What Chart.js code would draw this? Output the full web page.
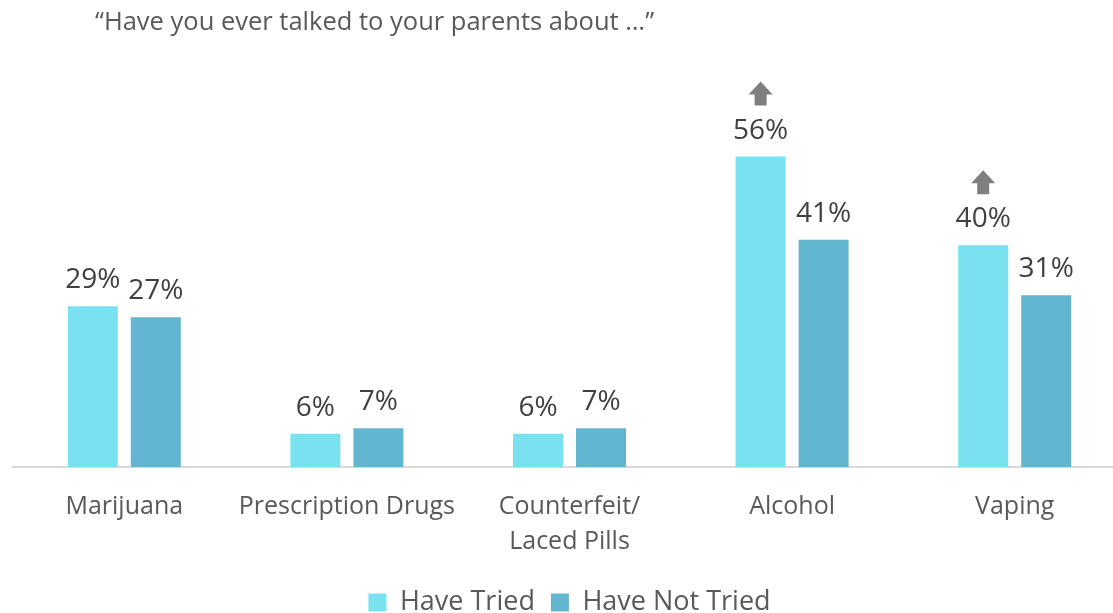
<!DOCTYPE html>
<html>
<head>
<meta charset="utf-8">
<script src="https://cdn.jsdelivr.net/npm/chart.js@4.4.1/dist/chart.umd.min.js"></script>
<style>
  html, body { margin: 0; padding: 0; background: #fff; overflow: hidden; }
  #wrap { position: relative; width: 1130px; height: 626px; }
  #title {
    position: absolute; left: 95px; top: 3px;
    font-family: "Open Sans", sans-serif; font-size: 25.5px; color: #595959;
  }
</style>
</head>
<body>
<div id="wrap">
  <div id="title">“Have you ever talked to your parents about …”</div>
  <canvas id="chart" width="1130" height="626"></canvas>
</div>
<script>
const categories = ['Marijuana', 'Prescription Drugs', ['Counterfeit/', 'Laced Pills'], 'Alcohol', 'Vaping'];
const haveTried = [29, 6, 6, 56, 40];
const haveNotTried = [27, 7, 7, 41, 31];
// up-arrow marks over the "Have Tried" bar
const upArrow = [false, false, false, true, true];

const FONT = '"Open Sans", sans-serif';

const barLabels = {
  id: 'barLabels',
  afterDatasetsDraw(chart) {
    const ctx = chart.ctx;
    ctx.save();
    ctx.font = '28px ' + FONT;
    ctx.fillStyle = '#404040';
    ctx.textAlign = 'center';
    ctx.textBaseline = 'alphabetic';
    chart.data.datasets.forEach((ds, di) => {
      chart.getDatasetMeta(di).data.forEach((bar, i) => {
        ctx.fillText(ds.data[i] + '%', bar.x, bar.y - 18);
        if (di === 0 && upArrow[i]) {
          const bottom = bar.y - 51;
          const top = bottom - 24;
          ctx.fillStyle = '#7f7f7f';
          ctx.beginPath();
          ctx.moveTo(bar.x, top);
          ctx.lineTo(bar.x + 12, top + 13);
          ctx.lineTo(bar.x + 6, top + 13);
          ctx.lineTo(bar.x + 6, bottom);
          ctx.lineTo(bar.x - 6, bottom);
          ctx.lineTo(bar.x - 6, top + 13);
          ctx.lineTo(bar.x - 12, top + 13);
          ctx.closePath();
          ctx.fill();
          ctx.fillStyle = '#404040';
        }
      });
    });
    ctx.restore();
  }
};

new Chart(document.getElementById('chart'), {
  type: 'bar',
  data: {
    labels: categories,
    datasets: [
      { label: 'Have Tried', data: haveTried, backgroundColor: '#79e1ef' },
      { label: 'Have Not Tried', data: haveNotTried, backgroundColor: '#63b6d0' }
    ]
  },
  options: {
    responsive: false,
    animation: false,
    layout: { padding: { left: 13, right: 4, top: 79, bottom: 0 } },
    datasets: { bar: { categoryPercentage: 0.566, barPercentage: 0.794 } },
    scales: {
      x: {
        grid: { display: false },
        border: { display: true, color: '#d9d9d9', width: 2 },
        ticks: {
          color: '#595959',
          font: { family: FONT, size: 25, lineHeight: 1.4 },
          padding: 14,
          maxRotation: 0
        }
      },
      y: { display: false, min: 0, max: 70 }
    },
    plugins: {
      legend: {
        position: 'bottom',
        labels: {
          color: '#595959',
          font: { family: FONT, size: 27 },
          boxWidth: 18, boxHeight: 18,
          padding: 16
        }
      },
      tooltip: { enabled: false }
    }
  },
  plugins: [barLabels]
});
</script>
</body>
</html>
